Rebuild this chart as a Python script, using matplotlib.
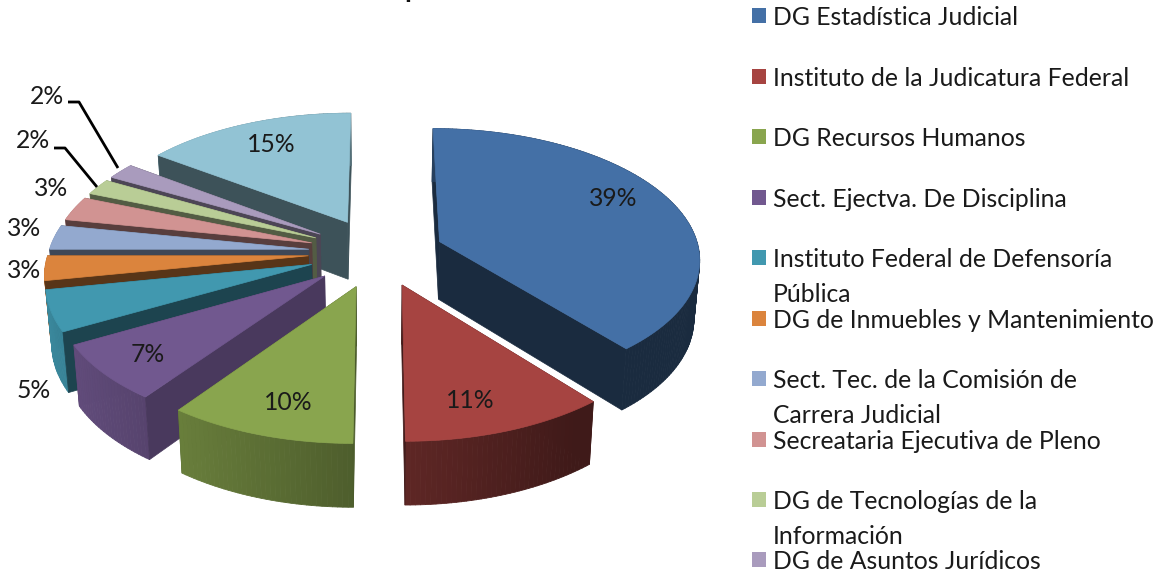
import numpy as np
import matplotlib
matplotlib.use("Agg")
import matplotlib.pyplot as plt
from matplotlib.collections import PolyCollection
from matplotlib.patches import Polygon, Rectangle

categories = ["DG Estadística Judicial", "Instituto de la Judicatura Federal", "DG Recursos Humanos",
              "Sect. Ejectva. De Disciplina", "Instituto Federal de Defensoría\nPública",
              "DG de Inmuebles y Mantenimiento", "Sect. Tec. de la Comisión de\nCarrera Judicial",
              "Secreataria Ejecutiva de Pleno", "DG de Tecnologías de la\nInformación", "DG de Asuntos Jurídicos",
              "Otros"]
values = [39, 11, 10, 7, 5, 3, 3, 3, 2, 2, 15]
colors = ["#4470a6", "#a64441", "#89a54e", "#71588f", "#4198af", "#db843d",
          "#93a9cf", "#d19392", "#b9cd96", "#a99bbd", "#92c3d4"]
side_shade = [0.38, 0.40, 0.55, 0.65, 0.45, 0.40, 0.42, 0.42, 0.45, 0.45, 0.42]
explode = [0.252, 0.26, 0.27, 0.27, 0.27, 0.27, 0.27, 0.27, 0.27, 0.27, 0.27]
draw_order = [10, 9, 8, 7, 6, 5, 4, 3, 0, 2, 1]

# projection parameters (pixels)
CX, CY, RX, RY, PERSP, H, TAPER = 378.5, 252.5, 260.0, 129.0, 0.12, 58.0, 0.018

plt.rcParams['font.family'] = ['Lato', 'DejaVu Sans']
fig = plt.figure(figsize=(11.6, 5.75), dpi=100)
ax = fig.add_axes([0, 0, 1, 1])
ax.set_xlim(0, 1160)
ax.set_ylim(575, 0)
ax.axis('off')


def top(u, v):
    den = 1 + PERSP * v
    return CX + u * RX / den, CY - v * RY / den


def bottom(u, v):
    x, y = top(u, v)
    return CX + (x - CX) * (1 - TAPER), y + H * (1 - 0.08 * v)


def shade(color, f):
    return tuple(np.array(matplotlib.colors.to_rgb(color)) * f)


edges = np.concatenate([[0], np.cumsum(values)]) / sum(values) * 2 * np.pi
for z, i in enumerate(draw_order):
    t0, t1 = edges[i], edges[i + 1]
    mid = (t0 + t1) / 2
    du, dv = explode[i] * np.sin(mid), explode[i] * np.cos(mid)
    th = np.linspace(t0, t1, max(8, int((t1 - t0) * 60)))
    us, vs = du + np.sin(th), dv + np.cos(th)
    base = 10 + z * 5
    col = colors[i]
    # radial side walls: the far one first
    dark = shade(col, side_shade[i])
    ends = sorted([t0, t1], key=lambda t: -np.cos(t))
    for t in ends[:1]:
        a, b = (du, dv), (du + np.sin(t), dv + np.cos(t))
        ax.add_patch(Polygon([top(*a), top(*b), bottom(*b), bottom(*a)], fc=dark, ec=dark, lw=.5, zorder=base))
    # outer rim with a horizontal gradient
    quads, fcs = [], []
    for k in range(len(th) - 1):
        a, b = (us[k], vs[k]), (us[k + 1], vs[k + 1])
        quads.append([top(*a), top(*b), bottom(*b), bottom(*a)])
        f = np.clip(0.57 - 0.33 * np.sin((th[k] + th[k + 1]) / 2), 0.38, 0.92)
        fcs.append(shade(col, f))
    ax.add_collection(PolyCollection(quads, facecolors=fcs, edgecolors=fcs, linewidths=.6, zorder=base + 1))
    for t in ends[1:]:
        a, b = (du, dv), (du + np.sin(t), dv + np.cos(t))
        ax.add_patch(Polygon([top(*a), top(*b), bottom(*b), bottom(*a)], fc=dark, ec=dark, lw=.5, zorder=base + 2))
    # top face
    pts = [top(du, dv)] + [top(a, b) for a, b in zip(us, vs)]
    ax.add_patch(Polygon(pts, fc=col, ec=col, lw=.5, zorder=base + 3))

# data labels (order follows values)
label_xy = [(613, 199), (470, 401), (288, 402), (148, 355), (34, 391), (24, 271),
            (24, 229), (51, 188), (33, 140), (47, 96), (271, 145)]
for v, (x, y) in zip(values, label_xy):
    ax.text(x, y, f"{v}%", ha='center', va='center', fontsize=17.8, color='#1a1a1a', zorder=100)

# leader lines
ax.plot([68, 79, 118], [102, 102, 168], color='black', lw=2, zorder=99, solid_capstyle='butt')
ax.plot([54, 65, 97], [148, 148, 187], color='black', lw=2, zorder=99, solid_capstyle='butt')

# legend
legend_y = [16, 77, 137, 198, 258, 319, 379, 440, 500, 560]
for name, col, y in zip(categories[:10], colors, legend_y):
    ax.add_patch(Rectangle((752, y - 8), 14, 15, fc=col, ec='none', zorder=100))
    ax.text(773, y - 10, name, ha='left', va='top', fontsize=17.8, color='#1a1a1a',
            linespacing=1.62, zorder=100)

# cut-off title: only its descender stays on the canvas
ax.text(404, -3, "p", ha='left', va='baseline', fontsize=20, fontweight='bold', color='#111111')

fig.savefig("out.png", dpi=100)
